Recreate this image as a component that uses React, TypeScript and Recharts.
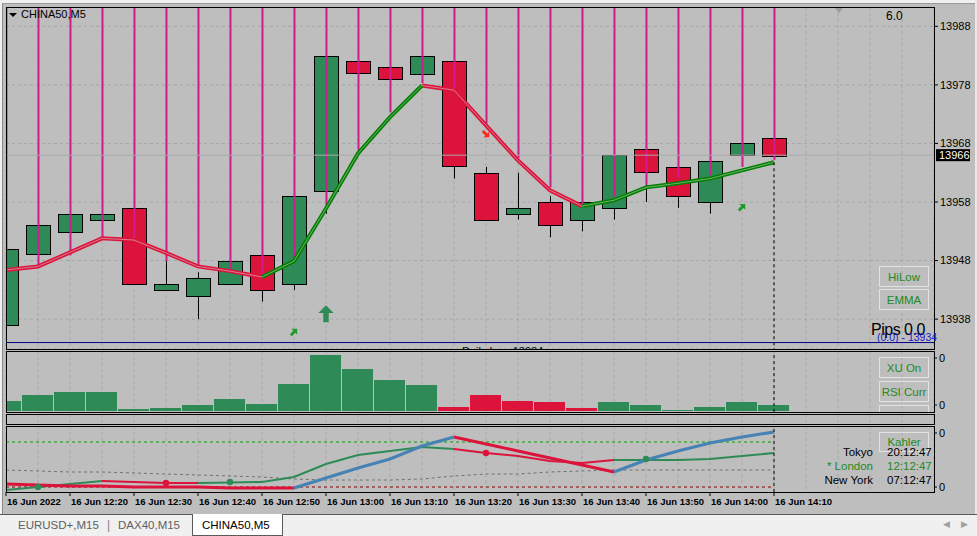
import React from "react";
import {
  ComposedChart,
  Bar,
  Line,
  XAxis,
  YAxis,
  CartesianGrid,
  ReferenceLine,
  Scatter,
  Cell,
} from "recharts";

// ---- data (CHINA50, M5, 16 Jun 2022) ----
const TIMES = [
  "12:10", "12:15", "12:20", "12:25", "12:30", "12:35", "12:40", "12:45", "12:50",
  "12:55", "13:00", "13:05", "13:10", "13:15", "13:20", "13:25", "13:30", "13:35",
  "13:40", "13:45", "13:50", "13:55", "14:00", "14:05", "14:10",
];
const DATE_LABEL = "16 Jun 2022";
const DAY_PREFIX = "16 Jun ";

const OPENS = [13937, 13949, 13953, 13955, 13957, 13943, 13942, 13944, 13949, 13944, 13960, 13982, 13981, 13980, 13982, 13963, 13956, 13958, 13955, 13957, 13967, 13964, 13958, 13966, 13969];
const HIGHS = [13950, 13954, 13956, 13956, 13957, 13948, 13946, 13948, 13949, 13959, 13983, 13982, 13981, 13983, 13982, 13964, 13963, 13959, 13958, 13966, 13967, 13964, 13965, 13968, 13969];
const LOWS = [13935, 13949, 13950, 13955, 13944, 13943, 13938, 13944, 13941, 13943, 13956, 13980, 13979, 13980, 13962, 13955, 13955, 13952, 13953, 13955, 13958, 13957, 13956, 13966, 13966];
const CLOSES = [13950, 13954, 13956, 13956, 13944, 13944, 13945, 13948, 13943, 13959, 13983, 13980, 13979, 13983, 13964, 13955, 13957, 13954, 13958, 13966, 13963, 13959, 13965, 13968, 13966];

// magenta lines hang from the top of the chart down to these prices
const MAGENTA_END = [13946.4, 13947.2, 13948.9, 13952.0, 13951.5, 13947.9, 13947.2, 13946.4, 13945.2, 13948.1, 13957.5, 13966.8, 13973.3, 13978.3, 13977.4, 13971.4, 13965.5, 13960.5, 13957.5, 13958.9, 13960.9, 13962.1, 13962.6, 13964.0, 13965.2];

const EMA = [13946.4, 13947.0, 13949.4, 13951.8, 13951.5, 13949.3, 13947.0, 13946.2, 13945.2, 13947.9, 13956.9, 13966.3, 13972.5, 13977.9, 13977.1, 13971.1, 13965.1, 13960.0, 13957.3, 13958.3, 13960.5, 13961.2, 13962.0, 13963.4, 13964.8];
// colour state of the segment ending at each bar: 1 up, -1 down
const EMA_DIR = [0, -1, -1, -1, -1, -1, -1, -1, -1, 1, 1, 1, 1, 1, -1, -1, -1, -1, -1, 1, 1, 1, 1, 1, 1];

const PRICE_TICKS = [13938, 13948, 13958, 13968, 13978, 13988];
const PRICE_MIN = 13932.9;
const PRICE_MAX = 13991.3;
const DAILY_LOW = 13934;
const LAST_PRICE = 13966;

const ARROW_BARS = [9, 10, 15, 23];
const ARROW_PRICES = [13935.8, 13938.9, 13969.6, 13957.1];
const ARROW_KINDS = ["ne", "up", "se", "ne"];

// volume-like histogram
const HIST = [10, 16, 19, 19, 2, 3, 6, 12, 7, 27, 56, 42, 31, 26, 4, 16, 10, 9, 3, 9, 6, 1, 4, 9, 6];
const HIST_DIR = [1, 1, 1, 1, 1, 1, 1, 1, 1, 1, 1, 1, 1, 1, -1, -1, -1, -1, -1, 1, 1, 1, 1, 1, 1];

// lower oscillator
const OSC_A = [8, 7, 6, 6, 5, 5, 5, 4, 4, 4, 14, 24, 33, 46, 55, 48, 41, 34, 27, 20, 32, 41, 49, 55, 60];
const OSC_A_DIR = [0, -1, -1, -1, -1, -1, -1, -1, -1, -1, 1, 1, 1, 1, 1, -1, -1, -1, -1, -1, 1, 1, 1, 1, 1];
const OSC_B = [2, 5, 8, 11, 10, 9, 9, 9.5, 10, 15, 28, 37, 41, 45, 43, 39, 36, 31, 29, 32, 32, 32, 33, 36, 39];
const OSC_B_DIR = [0, 1, 1, 1, -1, -1, -1, 1, 1, 1, 1, 1, 1, 1, 1, -1, -1, -1, -1, -1, 1, 1, 1, 1, 1];
const OSC_MID = [22, 21, 20, 20, 19, 18, 17, 16, 15, 13, 12, 12, 12, 13, 16, 18, 18, 20, 21, 22, 22, 22, 22, 22, 22];
const OSC_HIGH = 50;
const OSC_LOW = 5;
const OSC_DOT_BARS = [1, 5, 7, 15, 20];
const OSC_DOT_VALUES = [5, 9, 10, 39, 33];
const OSC_DOT_DIR = [1, -1, 1, -1, 1];

const X_MAX = 29;
const X_GRID = Array.from({ length: X_MAX + 1 }, (_, i) => i);
const X_LABEL_TICKS = TIMES.map((_, i) => i).filter((i) => i % 2 === 0);

const GREEN = "#2e8b57";
const RED = "#dc143c";
const MAGENTA = "#cc1f8a";
const BG = "#bebebe";
const GRID = "#a6a6a6";
const FONT = '"Liberation Sans", Arial, sans-serif';

function splitByDir(values: number[], dir: number[]) {
  return values.map((v, i) => ({
    up: dir[i] === 1 || dir[i + 1] === 1 ? v : null,
    down: dir[i] === -1 || dir[i + 1] === -1 ? v : null,
  }));
}

const emaSplit = splitByDir(EMA, EMA_DIR);
const mainData = TIMES.map((t, i) => ({
  i,
  t,
  open: OPENS[i],
  high: HIGHS[i],
  low: LOWS[i],
  close: CLOSES[i],
  mag: MAGENTA_END[i],
  ema: EMA[i],
  emaUp: emaSplit[i].up,
  emaDown: emaSplit[i].down,
}));

const arrowData = ARROW_BARS.map((b, k) => ({ i: b, price: ARROW_PRICES[k], kind: ARROW_KINDS[k] }));

const histData = TIMES.map((t, i) => ({ i, t, h: HIST[i], dir: HIST_DIR[i] }));

const aSplit = splitByDir(OSC_A, OSC_A_DIR);
const bSplit = splitByDir(OSC_B, OSC_B_DIR);
const oscData = TIMES.map((t, i) => ({
  i,
  t,
  aUp: aSplit[i].up,
  aDown: aSplit[i].down,
  bUp: bSplit[i].up,
  bDown: bSplit[i].down,
  mid: OSC_MID[i],
  hi: OSC_HIGH,
  lo: OSC_LOW,
}));
const dotData = OSC_DOT_BARS.map((b, k) => ({ i: b, v: OSC_DOT_VALUES[k], dir: OSC_DOT_DIR[k] }));

function Candle(props: any) {
  const { x, y, width, height, payload } = props;
  const { open, close, high, low, mag } = payload;
  const k = height / (high - low);
  const py = (v: number) => y + (high - v) * k;
  const cx = Math.round(x + width / 2);
  const up = close >= open;
  const top = py(Math.max(open, close));
  const bot = py(Math.min(open, close));
  return (
    <g>
      <line x1={cx + 0.5} x2={cx + 0.5} y1={py(high)} y2={py(low)} stroke="#000" strokeWidth={1} />
      <rect
        x={cx - 11.5}
        y={Math.round(top) + 0.5}
        width={24}
        height={Math.max(Math.round(bot - top), 1)}
        fill={up ? GREEN : RED}
        stroke="#000"
        strokeWidth={1}
      />
      <line x1={cx + 0.5} x2={cx + 0.5} y1={py(PRICE_MAX)} y2={py(mag)} stroke={MAGENTA} strokeWidth={2} />
    </g>
  );
}

function Arrow(props: any) {
  const { cx, cy, payload } = props;
  const kind = payload.kind;
  const pts = "0,-5 4.5,-0.5 1.6,-0.5 1.6,5 -1.6,5 -1.6,-0.5 -4.5,-0.5";
  if (kind === "up") {
    return (
      <g transform={`translate(${cx},${cy}) scale(1.7)`}>
        <polygon points={pts} fill={GREEN} />
      </g>
    );
  }
  const rot = kind === "ne" ? 45 : 135;
  const col = kind === "ne" ? "#1f9a2a" : "#ff2a1a";
  return (
    <g transform={`translate(${cx},${cy}) rotate(${rot}) scale(0.9)`}>
      <polygon points={pts} fill={col} />
    </g>
  );
}

function Dot(props: any) {
  const { cx, cy, payload } = props;
  return <circle cx={cx} cy={cy} r={3.2} fill={payload.dir === 1 ? GREEN : RED} />;
}

function PriceTag(props: any) {
  const vb = props.viewBox || {};
  const x = vb.x + vb.width + 2;
  const y = vb.y;
  return (
    <g>
      <rect x={x} y={y - 6} width={34} height={12} fill="#000" />
      <text x={x + 3} y={y + 4} fill="#fff" fontSize={11} fontFamily={FONT}>
        {LAST_PRICE}
      </text>
    </g>
  );
}

function TimeTick(props: any) {
  const { x, y, payload } = props;
  const i = payload.value;
  const label = i === 0 ? DATE_LABEL : DAY_PREFIX + TIMES[i];
  return (
    <text x={x + 1} y={y} dy="0.75em" textAnchor="start" fontSize={9.5} fontFamily={FONT} fill="#000" fontWeight={600}>
      {label}
    </text>
  );
}

const abs = (left: number, top: number, extra: React.CSSProperties = {}): React.CSSProperties => ({
  position: "absolute",
  left,
  top,
  ...extra,
});

function Button({ left, top, label, w = 50, h = 21 }: { left: number; top: number; label: string; w?: number; h?: number }) {
  return (
    <div
      style={abs(left, top, {
        width: w,
        height: h,
        boxSizing: "border-box",
        border: "1px solid #e2e2e2",
        color: "#228b22",
        fontSize: 11.5,
        fontFamily: FONT,
        display: "flex",
        alignItems: "center",
        justifyContent: "center",
      })}
    >
      {label}
    </div>
  );
}

function Frame({ top, height }: { top: number; height: number }) {
  return (
    <div
      style={abs(6, top, {
        width: 929,
        height,
        boxSizing: "border-box",
        border: "1px solid #000",
        pointerEvents: "none",
      })}
    />
  );
}

export default function App() {
  const yTickStyle = { fontSize: 11, fill: "#000", fontFamily: FONT };
  return (
    <div style={{ position: "absolute", left: 0, top: 0, width: 977, height: 536, background: BG, overflow: "hidden", fontFamily: FONT }}>
      {/* window edges */}
      <div style={abs(0, 0, { width: 977, height: 3, background: "#f0f0f0" })} />
      <div style={abs(0, 3, { width: 977, height: 1, background: "#9a9a9a" })} />
      <div style={abs(0, 0, { width: 2, height: 514, background: "#f0f0f0" })} />
      <div style={abs(2, 3, { width: 1, height: 511, background: "#8a8a8a" })} />
      <div style={abs(975, 0, { width: 2, height: 514, background: "#e8e8e8" })} />

      {/* main price panel */}
      <div style={abs(0, 7)}>
        <ComposedChart width={977} height={342} data={mainData} margin={{ top: 0, right: 0, bottom: 0, left: 6 }}>
          <CartesianGrid stroke={GRID} strokeDasharray="3 3" />
          <XAxis dataKey="i" type="number" domain={[0, X_MAX]} ticks={X_GRID} hide allowDataOverflow />
          <YAxis
            orientation="right"
            width={43}
            domain={[PRICE_MIN, PRICE_MAX]}
            ticks={PRICE_TICKS}
            allowDataOverflow
            axisLine={false}
            tickLine={{ stroke: "#000" }}
            tickSize={4}
            tickMargin={2}
            tick={yTickStyle}
          />
          <ReferenceLine y={LAST_PRICE} stroke="#a9a9a9" label={<PriceTag />} />
          <ReferenceLine y={DAILY_LOW} stroke="#00008b" />
          <Bar dataKey={(d: any) => [d.low, d.high]} barSize={24} shape={<Candle />} isAnimationActive={false} />
          <Line dataKey="emaDown" stroke={RED} strokeWidth={4} dot={false} isAnimationActive={false} connectNulls={false} />
          <Line dataKey="emaUp" stroke="#008000" strokeWidth={4} dot={false} isAnimationActive={false} connectNulls={false} />
          <Line dataKey="ema" stroke="#d4d4d4" strokeOpacity={0.55} strokeWidth={1} dot={false} isAnimationActive={false} />
          <ReferenceLine
            segment={[
              { x: 24, y: EMA[24] },
              { x: 24, y: PRICE_MIN },
            ]}
            stroke="#000"
            strokeDasharray="3 3"
          />
          <Scatter data={arrowData} dataKey="price" shape={<Arrow />} isAnimationActive={false} />
        </ComposedChart>
      </div>
      <Frame top={7} height={343} />

      {/* main panel texts */}
      <div style={abs(9, 13, { width: 0, height: 0, borderLeft: "4px solid transparent", borderRight: "4px solid transparent", borderTop: "4px solid #000" })} />
      <div style={abs(21, 8, { fontSize: 11, color: "#000" })}>CHINA50,M5</div>
      <div style={abs(835, 8, { width: 0, height: 0, borderLeft: "4px solid transparent", borderRight: "4px solid transparent", borderTop: "5px solid #9c9c9c" })} />
      <div style={abs(886, 9, { fontSize: 12, color: "#000" })}>6.0</div>
      <Button left={879} top={266} label="HiLow" />
      <Button left={879} top={289} label="EMMA" />
      <div style={abs(871, 321, { fontSize: 16, color: "#000", letterSpacing: -0.5 })}>Pips 0.0</div>
      <div style={abs(877, 331, { fontSize: 10.5, color: "#2020c8" })}>(0.0) - 13934</div>
      <div style={abs(462, 345, { height: 4, overflow: "hidden" })}>
        <div style={{ fontSize: 11, color: "#000", lineHeight: "12px" }}>Daily Low 13934</div>
      </div>

      {/* histogram panel */}
      <div style={abs(0, 351)}>
        <ComposedChart width={977} height={61} data={histData} margin={{ top: 0, right: 0, bottom: 0, left: 6 }}>
          <CartesianGrid stroke={GRID} strokeDasharray="3 3" horizontal={false} />
          <XAxis dataKey="i" type="number" domain={[0, X_MAX]} ticks={X_GRID} hide allowDataOverflow />
          <YAxis
            orientation="right"
            width={43}
            domain={[-1, 60]}
            ticks={[6, 53]}
            tickFormatter={() => "0"}
            axisLine={false}
            tickLine={{ stroke: "#000" }}
            tickSize={3}
            tickMargin={2}
            tick={yTickStyle}
          />
          <Bar dataKey="h" barSize={31} isAnimationActive={false}>
            {histData.map((d) => (
              <Cell key={d.i} fill={d.dir === 1 ? GREEN : RED} />
            ))}
          </Bar>
          <ReferenceLine x={24} stroke="#000" strokeDasharray="3 3" />
        </ComposedChart>
      </div>
      <Frame top={351} height={62} />
      <div style={abs(0, 352, { width: 934, height: 60, overflow: "hidden" })}>
        <Button left={879} top={5} label="XU On" />
        <Button left={879} top={29} label="RSI Curr" />
        <Button left={879} top={53} label="RSI MTF" />
      </div>

      {/* empty separator panel */}
      <div style={abs(0, 414)}>
        <ComposedChart width={977} height={11} data={histData} margin={{ top: 0, right: 43, bottom: 0, left: 6 }}>
          <CartesianGrid stroke={GRID} strokeDasharray="3 3" horizontal={false} />
          <XAxis dataKey="i" type="number" domain={[0, X_MAX]} ticks={X_GRID} hide />
          <YAxis hide domain={[0, 1]} />
          <ReferenceLine x={24} stroke="#000" strokeDasharray="3 3" />
        </ComposedChart>
      </div>
      <Frame top={414} height={11} />

      {/* oscillator panel */}
      <div style={abs(0, 426)}>
        <ComposedChart width={977} height={88} data={oscData} margin={{ top: 0, right: 0, bottom: 0, left: 6 }}>
          <CartesianGrid stroke={GRID} strokeDasharray="3 3" horizontal={false} xAxisId="grid" />
          <XAxis xAxisId="grid" dataKey="i" type="number" domain={[0, X_MAX]} ticks={X_GRID} hide />
          <XAxis
            dataKey="i"
            type="number"
            domain={[0, X_MAX]}
            ticks={X_LABEL_TICKS}
            interval={0}
            height={22}
            axisLine={false}
            tickLine={{ stroke: "#000" }}
            tickSize={4}
            tickMargin={2}
            tick={<TimeTick />}
          />
          <YAxis
            orientation="right"
            width={43}
            domain={[0, 66]}
            ticks={[5, 59]}
            tickFormatter={() => "0"}
            axisLine={false}
            tickLine={{ stroke: "#000" }}
            tickSize={3}
            tickMargin={2}
            tick={yTickStyle}
          />
          <Line dataKey="hi" stroke="#00a000" strokeDasharray="3 3" strokeWidth={1} dot={false} isAnimationActive={false} />
          <Line dataKey="mid" stroke="#707070" strokeDasharray="3 3" strokeWidth={1} dot={false} isAnimationActive={false} />
          <Line dataKey="lo" stroke="#8b0000" strokeDasharray="3 3" strokeWidth={1} dot={false} isAnimationActive={false} />
          <Line dataKey="bDown" stroke={RED} strokeWidth={2} dot={false} isAnimationActive={false} />
          <Line dataKey="bUp" stroke={GREEN} strokeWidth={2} dot={false} isAnimationActive={false} />
          <Line dataKey="aDown" stroke={RED} strokeWidth={3} dot={false} isAnimationActive={false} />
          <Line dataKey="aUp" stroke="#4682b4" strokeWidth={3} dot={false} isAnimationActive={false} />
          <Scatter data={dotData} dataKey="v" shape={<Dot />} isAnimationActive={false} />
          <ReferenceLine x={24} stroke="#000" strokeDasharray="3 3" />
        </ComposedChart>
      </div>
      <Frame top={426} height={67} />
      <Button left={879} top={432} label="Kahler" h={20} />
      <div style={abs(800, 446, { width: 73, textAlign: "right", fontSize: 11.5, color: "#000" })}>Tokyo</div>
      <div style={abs(887, 446, { fontSize: 11.5, color: "#000" })}>20:12:47</div>
      <div style={abs(800, 460, { width: 73, textAlign: "right", fontSize: 11.5, color: "#228b22" })}>* London</div>
      <div style={abs(887, 460, { fontSize: 11.5, color: "#228b22" })}>12:12:47</div>
      <div style={abs(800, 474, { width: 73, textAlign: "right", fontSize: 11.5, color: "#000" })}>New York</div>
      <div style={abs(887, 474, { fontSize: 11.5, color: "#000" })}>07:12:47</div>

      {/* tab bar */}
      <div style={abs(0, 514, { width: 977, height: 22, background: "#f0f0f0", borderTop: "1px solid #5a5a5a", boxSizing: "border-box" })} />
      <div style={abs(192, 514, { width: 91, height: 22, background: "#fff", border: "1px solid #5a5a5a", borderTop: "none", boxSizing: "border-box" })} />
      <div style={abs(18, 519, { fontSize: 11.5, color: "#606060" })}>EURUSD+,M15</div>
      <div style={abs(107, 518, { fontSize: 12, color: "#808080" })}>|</div>
      <div style={abs(118, 519, { fontSize: 11.5, color: "#606060" })}>DAX40,M15</div>
      <div style={abs(202, 519, { fontSize: 11.5, color: "#000" })}>CHINA50,M5</div>
      <div style={abs(943, 519, { fontSize: 9, color: "#a0a0a0" })}>◀</div>
      <div style={abs(961, 519, { fontSize: 9, color: "#a0a0a0" })}>▶</div>
    </div>
  );
}
